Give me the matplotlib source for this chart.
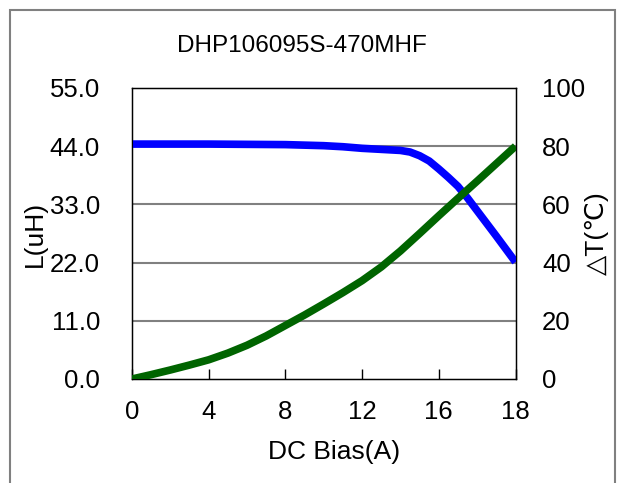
import matplotlib.pyplot as plt
from matplotlib.patches import Rectangle

plt.rcParams['font.family'] = ['Liberation Sans', 'DejaVu Sans']

# x positions on the plotted scale (axis drawn 0..20, last label reads 18)
tick_pos = [0, 4, 8, 12, 16, 20]
tick_labels = ['0', '4', '8', '12', '16', '18']

L_x = [0, 2, 4, 6, 8, 10, 11, 12, 13, 14, 14.5, 15, 15.5, 16, 16.5, 17, 17.5, 18, 19, 20]
L_uH = [44.4, 44.4, 44.4, 44.35, 44.3, 44.1, 43.9, 43.6, 43.4, 43.2, 42.9, 42.2,
        41.2, 39.7, 38.1, 36.4, 34.2, 31.8, 27.0, 22.1]

T_x = list(range(21))
dT = [0, 1.5, 3.1, 4.8, 6.6, 8.9, 11.6, 14.8, 18.4, 22.0, 25.8, 29.7, 33.8, 38.5,
      44.0, 50.0, 56.1, 62.1, 68.0, 74.0, 80]

left_ticks = [0, 11, 22, 33, 44, 55]
right_ticks = [0, 20, 40, 60, 80, 100]

fs = 18.5

fig = plt.figure(figsize=(6.19, 4.83), dpi=100)
fig.patches.append(Rectangle((10/619, -0.1), 605/619, 1.1 - 10/483, transform=fig.transFigure,
                             fill=False, edgecolor='#808080', linewidth=1.5))

ax = fig.add_axes([132/619, 1 - 379/483, 383.5/619, 291/483])
ax.plot(L_x, L_uH, color='#0000ff', linewidth=5.5, solid_capstyle='butt', solid_joinstyle='round', zorder=3)
ax.set_xlim(0, 20)
ax.set_ylim(0, 55)
ax.set_xticks(tick_pos)
ax.set_xticklabels(tick_labels)
ax.set_yticks(left_ticks)
ax.set_yticklabels(['%.1f' % v for v in left_ticks])
for v in left_ticks[1:-1]:
    ax.axhline(v, color='#808080', linewidth=1.5, zorder=1)
ax.tick_params(axis='x', direction='in', length=7, width=1, pad=15, labelsize=fs)
ax.tick_params(axis='y', direction='in', length=0, pad=23, labelsize=fs)
for s in ax.spines.values():
    s.set_linewidth(1)
ax.set_xlabel('DC Bias(A)', fontsize=19, va='center')
ax.xaxis.set_label_coords(0.527, -0.25)
ax.set_ylabel('L(uH)', fontsize=19, va='center')
ax.yaxis.set_label_coords(-0.253, 0.5)

ax2 = ax.twinx()
ax2.plot(T_x, dT, color='#006400', linewidth=5.5, solid_capstyle='butt', solid_joinstyle='round', zorder=3)
ax2.set_ylim(0, 100)
ax2.set_yticks(right_ticks)
ax2.tick_params(axis='y', direction='in', length=0, pad=19, labelsize=fs)
ax2.set_ylabel('△T(℃)', fontsize=19, rotation=90, va='center')
ax2.yaxis.set_label_coords(1.212, 0.5)

fig.text(302/619, 1 - 46/483, 'DHP106095S-470MHF', fontsize=17.5, ha='center', va='center')

fig.savefig('out.png', dpi=100)
